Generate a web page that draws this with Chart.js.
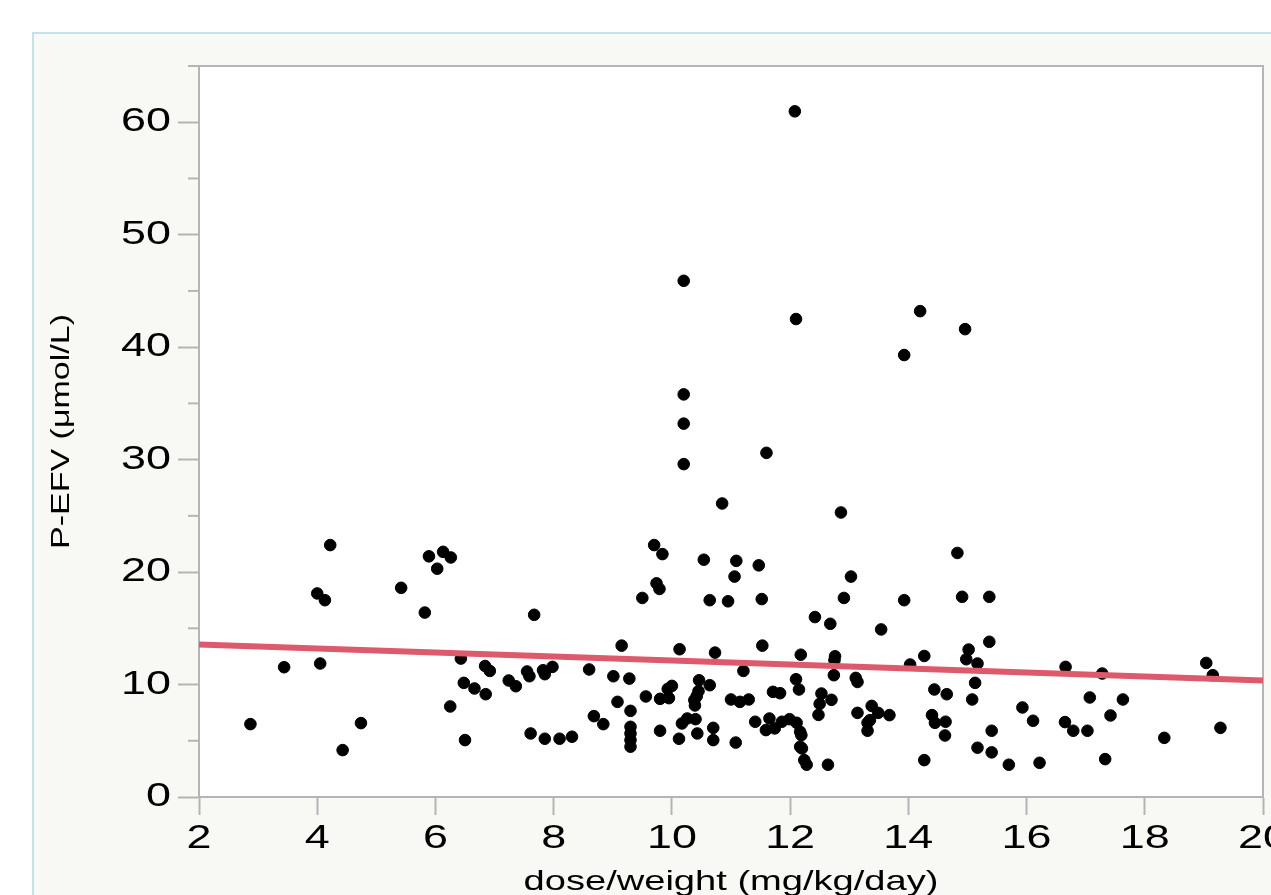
<!DOCTYPE html>
<html>
<head>
<meta charset="utf-8">
<title>P-EFV vs dose/weight</title>
<script src="https://cdn.jsdelivr.net/npm/chart.js@4.4.1/dist/chart.umd.min.js"></script>
<style>
  html, body { margin: 0; padding: 0; background: #fff; overflow: hidden; }
  #panel {
    position: absolute; left: 32px; top: 32px;
    width: 1320px; height: 960px;
    border: 2px solid #c4e3e9; background: #f8f8f4;
  }
  #chart { position: absolute; left: 0; top: 0; }
</style>
</head>
<body>
<div id="panel"></div>
<canvas id="chart" width="1320" height="960"></canvas>
<script>
// dose/weight (mg/kg/day) and P-EFV (µmol/L), one entry per patient
const doseWeight = [
  12.08, 10.2, 12.1, 14.2, 14.96, 13.93, 10.2, 10.2, 10.2, 11.6, 10.85, 12.86,
  4.22, 4.0, 4.13, 5.42, 5.89, 6.13, 6.26, 6.03, 5.82, 7.67,
  9.7, 9.84, 9.74, 9.79, 9.5, 10.54, 11.09, 11.06, 10.64, 10.95, 11.47, 11.52,
  13.03, 12.91, 12.42, 12.68, 13.54, 13.93, 14.83, 14.91, 15.37, 15.37,
  3.44, 4.05, 2.87, 4.43, 4.74, 6.43, 6.84, 6.92, 6.48, 6.66, 6.85, 6.25, 6.5,
  7.24, 7.36, 7.55, 7.59, 7.82, 7.85, 7.98, 8.6, 7.61, 7.85, 8.1, 8.31, 8.68, 8.84,
  9.15, 10.13, 10.73, 11.53, 12.18, 12.76, 12.75, 14.27, 14.03, 15.02, 14.98, 15.17,
  15.13, 15.08, 15.41, 15.17, 15.41, 14.27, 12.64, 12.28, 12.24,
  9.01, 9.28, 11.21, 12.74, 12.1, 13.11, 13.14, 10.46, 10.64, 10.0, 9.93, 10.45, 10.42,
  14.44, 14.65, 9.56, 9.8, 9.95, 9.08, 12.15, 11.71, 11.83, 12.53, 12.7, 12.5,
  10.38, 10.39, 11.0, 11.15, 11.3, 9.3, 13.38, 13.49, 13.68, 13.14, 12.48,
  14.4, 14.45, 14.63, 14.62, 9.3, 9.3, 9.3, 9.3, 9.8, 10.12, 10.17, 10.26, 10.4, 10.43,
  10.7, 10.7, 11.08, 11.41, 11.65, 11.59, 11.74, 11.86, 11.99, 12.11, 12.17, 12.19,
  12.17, 12.2, 13.31, 13.35, 13.31,
  16.66, 17.28, 19.04, 19.15, 15.93, 16.11, 16.65, 16.79, 17.03, 17.07, 17.42, 17.63,
  18.33, 19.28, 15.7, 16.22, 17.33
];
const pEFV = [
  60.97, 45.9, 42.5, 43.2, 41.6, 39.3, 35.8, 33.2, 29.6, 30.6, 26.1, 25.3,
  22.4, 18.1, 17.5, 18.6, 21.4, 21.8, 21.3, 20.3, 16.4, 16.2,
  22.4, 21.6, 19.0, 18.5, 17.7, 21.1, 21.0, 19.6, 17.5, 17.4, 20.6, 17.6,
  19.6, 17.7, 16.0, 15.4, 14.9, 17.5, 21.7, 17.8, 17.8, 13.8,
  11.54, 11.87, 6.48, 4.17, 6.57, 12.31, 11.65, 11.21, 10.15, 9.65, 9.14, 8.05, 5.06,
  10.36, 9.85, 11.16, 10.74, 11.27, 10.92, 11.57, 11.34, 5.65, 5.18, 5.18, 5.36, 7.19, 6.48,
  13.46, 13.14, 12.84, 13.46, 12.65, 12.51, 12.16, 12.54, 11.78, 13.11, 12.25, 11.87,
  10.15, 8.67, 5.89, 4.38, 3.97, 3.28, 2.87, 2.87, 3.28,
  10.74, 10.53, 11.21, 10.83, 10.47, 10.59, 10.23, 10.38, 9.94, 9.88, 9.61, 9.41, 8.96,
  9.56, 9.14, 8.94, 8.73, 8.79, 8.46, 9.56, 9.35, 9.23, 9.2, 8.64, 8.28,
  8.61, 8.14, 8.67, 8.46, 8.67, 7.66, 8.1, 7.48, 7.28, 7.48, 7.3,
  7.28, 6.6, 6.69, 5.47, 6.24, 5.65, 5.06, 4.47, 5.89, 5.18, 6.54, 6.98, 6.92, 5.65,
  6.15, 5.06, 4.84, 6.69, 6.98, 5.95, 6.1, 6.69, 6.92, 6.6, 5.8, 5.5,
  4.47, 4.32, 6.6, 6.83, 5.89,
  11.57, 10.98, 11.92, 10.83, 7.96, 6.78, 6.66, 5.89, 5.89, 8.85, 7.25, 8.67,
  5.26, 6.15, 2.87, 3.04, 3.37
];
// fitted line end points
const fitX = [2, 20];
const fitY = [13.55, 10.37];
// minor y ticks (unlabelled)
const minorYTicks = [5, 15, 25, 35, 45, 55, 65];

const axisGray = "#b5b5b5";
const fontFamily = "'Liberation Sans', Arial, Helvetica, sans-serif";
const TEXT_WIDEN = 1.36; // the reference font is much wider than Arial

const canvas = document.getElementById("chart");
const ctx = canvas.getContext("2d");

// stretch every text run along its own direction
const plainFillText = ctx.fillText;
ctx.fillText = function (text, x, y) {
  this.save();
  this.translate(x, y);
  this.scale(TEXT_WIDEN, 1);
  plainFillText.call(this, text, 0, 0);
  this.restore();
};

const framePlugin = {
  id: "frame",
  beforeDraw(chart) {
    const { ctx, chartArea: a } = chart;
    ctx.save();
    ctx.fillStyle = "#ffffff";
    ctx.fillRect(a.left, a.top, a.right - a.left, a.bottom - a.top);
    ctx.restore();
  },
  beforeDatasetsDraw(chart) {
    const { ctx, chartArea: a } = chart;
    const y = chart.scales.y;
    ctx.save();
    ctx.strokeStyle = axisGray;
    ctx.lineWidth = 2;
    ctx.beginPath();
    ctx.moveTo(a.left, a.top);
    ctx.lineTo(a.right, a.top);
    ctx.lineTo(a.right, a.bottom);
    ctx.stroke();
    minorYTicks.forEach(v => {
      const py = y.getPixelForValue(v);
      ctx.beginPath();
      ctx.moveTo(a.left - 11, py);
      ctx.lineTo(a.left, py);
      ctx.stroke();
    });
    ctx.restore();
  }
};

new Chart(ctx, {
  data: {
    datasets: [
      {
        type: "line",
        data: fitX.map((x, i) => ({ x: x, y: fitY[i] })),
        borderColor: "#dc5a6b",
        borderWidth: 6,
        pointRadius: 0,
        order: 0
      },
      {
        type: "scatter",
        data: doseWeight.map((x, i) => ({ x: x, y: pEFV[i] })),
        backgroundColor: "#000000",
        borderColor: "#000000",
        borderWidth: 1,
        pointRadius: 5.8,
        order: 1
      }
    ]
  },
  options: {
    responsive: false,
    animation: false,
    devicePixelRatio: 1,
    layout: { padding: { left: 0, top: 66, right: 57, bottom: 0 } },
    plugins: { legend: { display: false }, tooltip: { enabled: false } },
    scales: {
      x: {
        type: "linear",
        min: 2,
        max: 20,
        afterFit(scale) { scale.height = 163; },
        ticks: {
          stepSize: 2,
          color: "#000",
          padding: 4,
          font: { family: fontFamily, size: 33 }
        },
        grid: {
          drawOnChartArea: false,
          tickLength: 18,
          tickWidth: 2,
          tickColor: axisGray
        },
        border: { color: axisGray, width: 2 },
        title: {
          display: true,
          text: "dose/weight (mg/kg/day)",
          color: "#000",
          font: { family: fontFamily, size: 28 },
          padding: { top: 0, bottom: 61 }
        }
      },
      y: {
        type: "linear",
        min: 0,
        max: 65,
        afterFit(scale) { scale.width = 199; },
        ticks: {
          stepSize: 10,
          includeBounds: false,
          color: "#000",
          padding: 7,
          font: { family: fontFamily, size: 33 }
        },
        grid: {
          drawOnChartArea: false,
          tickLength: 21,
          tickWidth: 2,
          tickColor: axisGray
        },
        border: { color: axisGray, width: 2 },
        title: {
          display: true,
          text: "P-EFV (μmol/L)",
          color: "#000",
          font: { family: fontFamily, size: 25 },
          padding: { top: 47, bottom: 0 }
        }
      }
    }
  },
  plugins: [framePlugin]
});
</script>
</body>
</html>
